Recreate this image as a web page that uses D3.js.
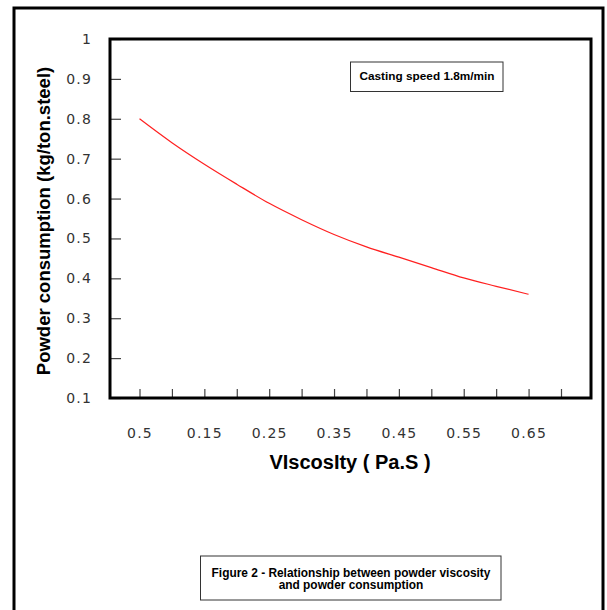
<!DOCTYPE html>
<html>
<head>
<meta charset="utf-8">
<script src="https://cdn.jsdelivr.net/npm/d3@7"></script>
<style>
  body { margin: 0; background: #fff; }
</style>
</head>
<body>
<div id="chart"></div>
<script>
// viscosity (Pa.S) vs powder consumption (kg/ton.steel)
const viscosity = [0.05, 0.1, 0.15, 0.2, 0.25, 0.3, 0.35, 0.4, 0.45, 0.5, 0.55, 0.6, 0.65];
const consumption = [0.80, 0.74, 0.686, 0.636, 0.588, 0.547, 0.51, 0.479, 0.453, 0.427, 0.401, 0.38, 0.36];

const xTicks = [0.05, 0.1, 0.15, 0.2, 0.25, 0.3, 0.35, 0.4, 0.45, 0.5, 0.55, 0.6, 0.65, 0.7];
const xTickLabels = ["0.5", "0.15", "0.25", "0.35", "0.45", "0.55", "0.65"];
const yTicks = [0.1, 0.2, 0.3, 0.4, 0.5, 0.6, 0.7, 0.8, 0.9, 1];

const W = 607, H = 610;
const box = {left: 110, top: 39, right: 591, bottom: 398};

const svg = d3.select("#chart")
  .append("svg")
  .attr("width", W)
  .attr("height", H);

// outer frame
svg.append("rect")
  .attr("x", 14).attr("y", 8)
  .attr("width", 603 - 14).attr("height", 640)
  .attr("fill", "none")
  .attr("stroke", "#000")
  .attr("stroke-width", 3);

const x = d3.scaleLinear().domain([0.05, 0.7]).range([139.5, 561]);
const y = d3.scaleLinear().domain([0.1, 1]).range([box.bottom, box.top]);

// y axis, ticks pointing into the plot
const yAxis = d3.axisLeft(y)
  .tickValues(yTicks)
  .tickSize(-11)
  .tickPadding(18)
  .tickFormat(d => d3.format("")(+d.toFixed(1)));

const gy = svg.append("g")
  .attr("transform", `translate(${box.left},0)`)
  .call(yAxis);

// x axis, ticks pointing up
const xAxis = d3.axisBottom(x)
  .tickValues(xTicks)
  .tickSize(-9)
  .tickPadding(30)
  .tickFormat((d, i) => i % 2 === 0 ? xTickLabels[i / 2] : "");

const gx = svg.append("g")
  .attr("transform", `translate(0,${box.bottom})`)
  .call(xAxis);

[gx, gy].forEach(g => {
  g.select(".domain").remove();
  g.selectAll(".tick line").attr("stroke", "#444").attr("stroke-width", 1.2);
  g.selectAll(".tick text")
    .attr("fill", "#333")
    .style("font-family", "'DejaVu Sans', sans-serif")
    .style("font-size", "14px")
    .style("letter-spacing", "1.2px");
});

// plot frame
svg.append("rect")
  .attr("x", box.left).attr("y", box.top)
  .attr("width", box.right - box.left)
  .attr("height", box.bottom - box.top)
  .attr("fill", "none")
  .attr("stroke", "#000")
  .attr("stroke-width", 3);

// data line
const line = d3.line()
  .x((d, i) => x(viscosity[i]))
  .y(d => y(d))
  .curve(d3.curveMonotoneX);

svg.append("path")
  .datum(consumption)
  .attr("d", line)
  .attr("fill", "none")
  .attr("stroke", "#ff2020")
  .attr("stroke-width", 1.2);

// axis titles
svg.append("text")
  .attr("transform", "translate(50,221) rotate(-90)")
  .attr("text-anchor", "middle")
  .style("font-family", "'Liberation Sans', Arial, sans-serif")
  .style("font-weight", "bold")
  .style("font-size", "18.5px")
  .text("Powder consumption (kg/ton.steel)");

svg.append("text")
  .attr("x", 350).attr("y", 469)
  .attr("text-anchor", "middle")
  .style("font-family", "'Liberation Sans', Arial, sans-serif")
  .style("font-weight", "bold")
  .style("font-size", "20px")
  .text("VIscosIty ( Pa.S )");

// legend note
svg.append("rect")
  .attr("x", 350.5).attr("y", 62)
  .attr("width", 152.5).attr("height", 29.5)
  .attr("fill", "#fff")
  .attr("stroke", "#333")
  .attr("stroke-width", 1);

svg.append("text")
  .attr("x", 427).attr("y", 80)
  .attr("text-anchor", "middle")
  .style("font-family", "'Liberation Sans', Arial, sans-serif")
  .style("font-weight", "bold")
  .style("font-size", "11.8px")
  .text("Casting speed 1.8m/min");

// caption
svg.append("rect")
  .attr("x", 200.5).attr("y", 556)
  .attr("width", 300.5).attr("height", 44)
  .attr("fill", "#fff")
  .attr("stroke", "#333")
  .attr("stroke-width", 1);

const caption = ["Figure 2 - Relationship between powder viscosity", "and powder consumption"];
svg.append("g").selectAll("text")
  .data(caption)
  .enter()
  .append("text")
  .attr("x", 351)
  .attr("y", (d, i) => 576.5 + i * 12.5)
  .attr("text-anchor", "middle")
  .style("font-family", "'Liberation Sans', Arial, sans-serif")
  .style("font-weight", "bold")
  .style("font-size", "11.9px")
  .text(d => d);
</script>
</body>
</html>
